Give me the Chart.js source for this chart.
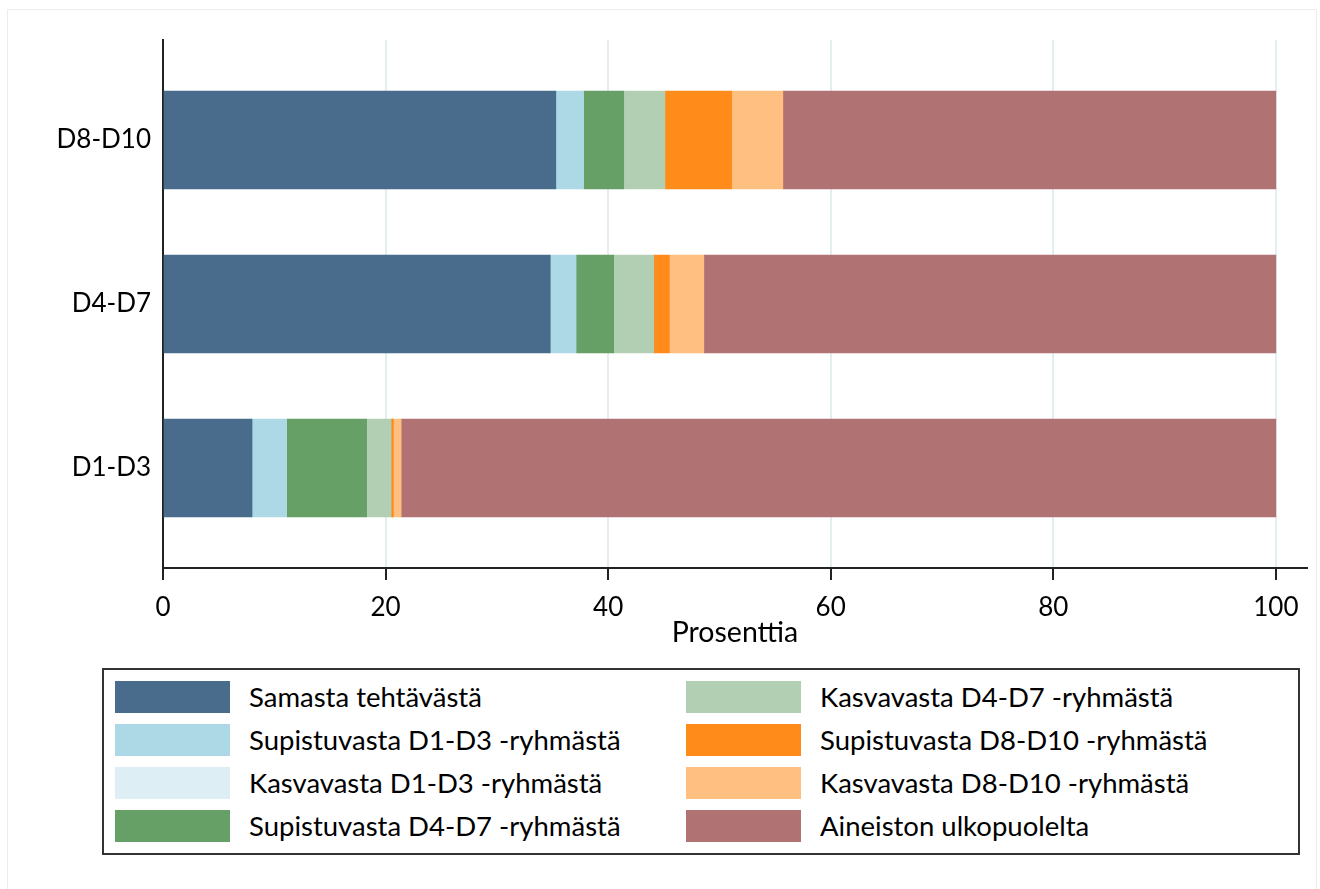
<!DOCTYPE html>
<html>
<head>
<meta charset="utf-8">
<script src="https://cdn.jsdelivr.net/npm/chart.js@4.4.1/dist/chart.umd.min.js"></script>
<style>
  body { margin: 0; width: 1320px; height: 889px; position: relative; background: #fff; overflow: hidden; font-family: Lato, sans-serif; }
  #frame { position: absolute; left: 7px; top: 9px; width: 1310px; height: 900px; border: 1px solid #ececec; box-sizing: border-box; }
  #chart-wrap { position: absolute; left: 0; top: 0; width: 1320px; height: 660px; }
  #legend {
    position: absolute; left: 102px; top: 668px; width: 1198px; height: 187px;
    box-sizing: border-box; border: 2px solid #333; padding: 5px 0 0 11px;
    display: grid; grid-template-columns: 571px 571px; grid-template-rows: repeat(4, 43px);
    grid-auto-flow: column;
  }
  .item { display: flex; align-items: center; font-size: 27.5px; color: #000; white-space: nowrap; }
  .swatch { width: 115px; height: 32px; margin-right: 19px; flex: none; }
</style>
</head>
<body>
<div id="frame"></div>
<div id="chart-wrap"><canvas id="chart"></canvas></div>
<div id="legend"></div>
<script>
// categories (bottom to top) and tick values
const categories = ['D1-D3', 'D4-D7', 'D8-D10'];
const xTicks = [0, 20, 40, 60, 80, 100];

// shares in percent, order follows categories
const samasta = [8.0, 34.8, 35.3];
const supD1D3 = [3.1, 2.3, 2.5];
const kasD1D3 = [0, 0, 0];
const supD4D7 = [7.2, 3.4, 3.6];
const kasD4D7 = [2.2, 3.6, 3.7];
const supD8D10 = [0.2, 1.4, 6.0];
const kasD8D10 = [0.7, 3.1, 4.6];
const ulkopuolelta = [78.6, 51.4, 44.3];

const seriesLabels = [
  'Samasta tehtävästä',
  'Supistuvasta D1-D3 -ryhmästä',
  'Kasvavasta D1-D3 -ryhmästä',
  'Supistuvasta D4-D7 -ryhmästä',
  'Kasvavasta D4-D7 -ryhmästä',
  'Supistuvasta D8-D10 -ryhmästä',
  'Kasvavasta D8-D10 -ryhmästä',
  'Aineiston ulkopuolelta'
];
const seriesValues = [samasta, supD1D3, kasD1D3, supD4D7, kasD4D7, supD8D10, kasD8D10, ulkopuolelta];
const seriesColors = ['#4a6c8c', '#add8e6', '#ddeef5', '#66a066', '#b3cfb3', '#ff8c1a', '#ffbf80', '#b07273'];

const datasets = seriesValues.map((vals, i) => ({
  label: seriesLabels[i],
  data: vals.map((v, j) => ({ x: v, y: j + 1 })),
  backgroundColor: seriesColors[i],
  borderWidth: 0,
  barThickness: 98
}));

const axisColor = '#222';
const fontFamily = 'Lato, sans-serif';

new Chart(document.getElementById('chart').getContext('2d'), {
  type: 'bar',
  data: { datasets },
  options: {
    indexAxis: 'y',
    responsive: true,
    maintainAspectRatio: false,
    animation: false,
    layout: { padding: { top: 40, right: 13, left: 0, bottom: 0 } },
    plugins: { legend: { display: false }, tooltip: { enabled: false } },
    scales: {
      x: {
        type: 'linear',
        stacked: true,
        min: 0,
        max: 102.8,
        afterBuildTicks: (scale) => { scale.ticks = xTicks.map(v => ({ value: v })); },
        afterFit: (scale) => { scale.height = 92; },
        border: { color: axisColor, width: 2 },
        grid: {
          color: (ctx) => ctx.tick && ctx.tick.value === 0 ? 'rgba(0,0,0,0)' : '#e4eef1',
          lineWidth: 2,
          tickColor: axisColor,
          tickLength: 12,
          tickWidth: 2
        },
        ticks: { color: '#000', font: { family: fontFamily, size: 26 }, padding: 12, maxRotation: 0 },
        title: { display: true, text: 'Prosenttia', color: '#000', font: { family: fontFamily, size: 28.5 }, padding: { top: 0, bottom: 10 } }
      },
      y: {
        type: 'linear',
        stacked: true,
        offset: false,
        min: 0.3902,
        max: 3.6098,
        afterBuildTicks: (scale) => { scale.ticks = categories.map((c, i) => ({ value: i + 1 })); },
        afterFit: (scale) => { scale.width = 163; },
        border: { color: axisColor, width: 2 },
        grid: { display: false, drawTicks: false },
        ticks: {
          color: '#000',
          font: { family: fontFamily, size: 26 },
          padding: 12,
          callback: (v) => categories[v - 1]
        }
      }
    }
  }
});

// legend, filled column by column
const legendEl = document.getElementById('legend');
seriesLabels.forEach((label, i) => {
  const item = document.createElement('div');
  item.className = 'item';
  item.innerHTML = `<span class="swatch" style="background:${seriesColors[i]}"></span><span>${label}</span>`;
  legendEl.appendChild(item);
});
</script>
</body>
</html>
